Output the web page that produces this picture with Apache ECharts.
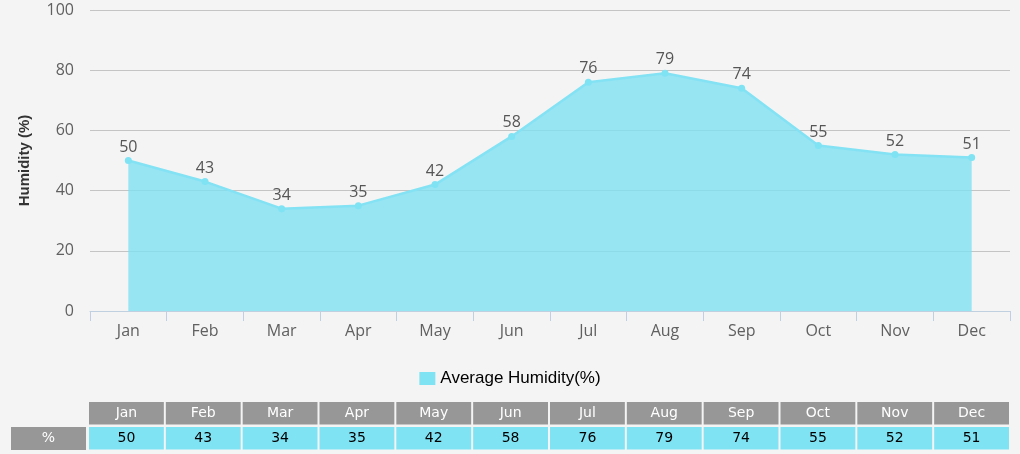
<!DOCTYPE html>
<html>
<head>
<meta charset="utf-8">
<script src="https://cdn.jsdelivr.net/npm/echarts@6/dist/echarts.min.js"></script>
<style>
html, body { margin: 0; padding: 0; background: #f4f4f4; }
#box1 { width: 1020px; height: 454px; }
</style>
</head>
<body>
<div id="box1"></div>
<script>
var months = ["Jan", "Feb", "Mar", "Apr", "May", "Jun", "Jul", "Aug", "Sep", "Oct", "Nov", "Dec"];
var humidity = [50, 43, 34, 35, 42, 58, 76, 79, 74, 55, 52, 51];
var tableRows = ["", "%"];

var dom = document.getElementById("box1");
var myChart = echarts.init(dom);

// table cells: row 0 = month header, row 1 = values
var tableData = [];
for (var i = 0; i < months.length; i++) {
    tableData.push([i, 0, months[i]]);
    tableData.push([i, 1, humidity[i]]);
}

function renderCell(params, api) {
    var x = api.value(0), row = api.value(1);
    var c = api.coord([x, row]);
    var w = api.size([1, 0])[0];
    var h = api.size([0, 1])[1];
    var isHead = row === 0;
    return {
        type: 'group',
        children: [{
            type: 'rect',
            shape: { x: c[0] - w / 2 + 1, y: c[1] - h / 2 + 1, width: w - 2, height: h - 2.5 },
            style: { fill: isHead ? '#979797' : '#7fe3f4' }
        }, {
            type: 'text',
            style: {
                x: c[0], y: c[1],
                text: String(tableData[params.dataIndex][2]),
                align: 'center', verticalAlign: 'middle',
                fill: isHead ? '#fff' : '#000',
                font: '14px "DejaVu Sans"'
            }
        }]
    };
}

option = {
    backgroundColor: '#f4f4f4',
    animation: false,
    legend: {
        show: true,
        bottom: 62,
        left: 'center',
        itemWidth: 16,
        itemHeight: 13,
        icon: 'rect',
        textStyle: { fontFamily: 'Liberation Sans', fontSize: 17, color: '#000' },
        data: ['Average Humidity(%)']
    },
    grid: [{
        left: 90,
        right: 10,
        top: 10,
        height: 301
    }, {
        left: 88,
        right: 10,
        top: 401,
        height: 50
    }],
    xAxis: [{
        type: 'category',
        data: months,
        gridIndex: 0,
        axisLine: { lineStyle: { color: '#c0d0e0' } },
        axisTick: { show: true, length: 10, lineStyle: { color: '#c0d0e0' } },
        axisLabel: { color: '#606060', fontFamily: 'Open Sans', fontSize: 16, margin: 12 }
    }, {
        type: 'category',
        data: months,
        gridIndex: 1,
        show: false
    }],
    yAxis: [{
        type: 'value',
        gridIndex: 0,
        min: 0,
        max: 100,
        interval: 20,
        name: 'Humidity (%)',
        nameLocation: 'middle',
        nameGap: 58,
        nameTextStyle: { fontFamily: 'Liberation Sans', fontWeight: 'bold', fontSize: 15, color: '#333' },
        axisLine: { show: false },
        axisTick: { show: false },
        axisLabel: { color: '#606060', fontFamily: 'Open Sans', fontSize: 16, margin: 16 },
        splitLine: { lineStyle: { color: '#c4c4c4' } }
    }, {
        type: 'category',
        gridIndex: 1,
        inverse: true,
        data: tableRows,
        axisLine: { show: false },
        axisTick: { show: false },
        splitLine: { show: false },
        axisLabel: {
            margin: 2,
            formatter: function (v) { return v === '%' ? '{a|%}' : ''; },
            rich: {
                a: {
                    backgroundColor: '#979797', color: '#fff', width: 75, height: 23,
                    align: 'center', fontFamily: 'DejaVu Sans', fontSize: 14
                }
            }
        }
    }],
    series: [{
        name: 'Average Humidity(%)',
        type: 'line',
        xAxisIndex: 0,
        yAxisIndex: 0,
        data: humidity,
        color: '#7fe3f4',
        symbol: 'circle',
        symbolSize: 7,
        lineStyle: { width: 2.5, color: '#83e2f3' },
        areaStyle: { color: '#7fe0f3', opacity: 0.8 },
        label: {
            show: true,
            position: 'top',
            distance: 2,
            color: '#555',
            fontFamily: 'Open Sans',
            fontSize: 16
        }
    }, {
        name: 'table',
        type: 'custom',
        xAxisIndex: 1,
        yAxisIndex: 1,
        data: tableData,
        renderItem: renderCell,
        silent: true
    }]
};
if (option && typeof option === "object") {
    myChart.setOption(option, true);
}
</script>
</body>
</html>
